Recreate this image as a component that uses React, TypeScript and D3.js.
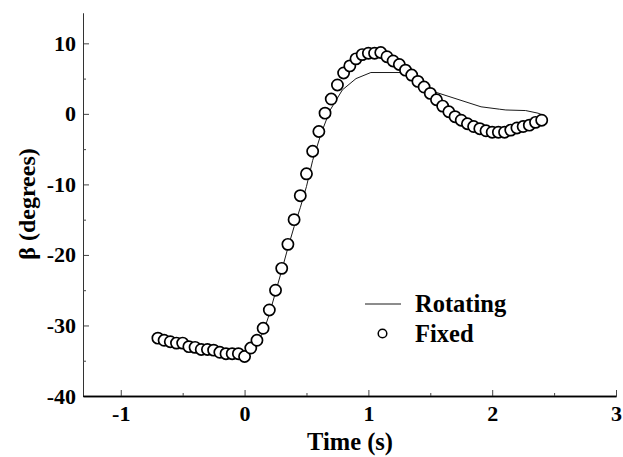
import React, { useRef, useEffect } from "react";
import * as d3 from "d3";

// Fixed (circles)
const fixedTime = [
  -0.7, -0.65, -0.6, -0.55, -0.5, -0.45, -0.4, -0.35, -0.3, -0.25, -0.2, -0.15, -0.1, -0.05,
  0.0, 0.05, 0.1, 0.15, 0.2, 0.25, 0.3, 0.35, 0.4, 0.45, 0.5, 0.55, 0.6, 0.65, 0.7, 0.75,
  0.8, 0.85, 0.9, 0.95, 1.0, 1.05, 1.1, 1.15, 1.2, 1.25, 1.3, 1.35, 1.4, 1.45, 1.5, 1.55,
  1.6, 1.65, 1.7, 1.75, 1.8, 1.85, 1.9, 1.95, 2.0, 2.05, 2.1, 2.15, 2.2, 2.25, 2.3, 2.35, 2.4,
];
const fixedBeta = [
  -31.8, -32.1, -32.3, -32.5, -32.5, -33.0, -33.1, -33.4, -33.4, -33.5, -33.8, -34.0, -34.0, -34.0,
  -34.4, -33.2, -32.1, -30.4, -27.8, -25.0, -21.9, -18.5, -15.0, -11.6, -8.5, -5.3, -2.5, 0.1, 2.1, 4.1,
  5.8, 6.8, 7.8, 8.4, 8.6, 8.6, 8.7, 8.1, 7.5, 7.0, 6.2, 5.5, 4.6, 3.8, 2.9, 2.0,
  1.1, 0.3, -0.4, -0.9, -1.4, -1.8, -2.1, -2.4, -2.6, -2.6, -2.6, -2.3, -2.0, -1.8, -1.6, -1.2, -0.9,
];

// Rotating (line)
const rotTime = [
  0.0, 0.05, 0.1, 0.15, 0.2, 0.25, 0.3, 0.35, 0.4, 0.45, 0.5, 0.55, 0.62, 0.69, 0.79, 0.9,
  1.02, 1.33, 1.52, 1.91, 2.06, 2.11, 2.27, 2.37, 2.4,
];
const rotBeta = [
  -34.4, -33.4, -32.3, -31.0, -28.4, -25.3, -22.2, -19.0, -16.0, -13.3, -10.3, -6.6, -2.7, 0.5, 3.4, 5.0,
  5.86, 5.86, 3.2, 1.0, 0.66, 0.55, 0.47, 0.1, -0.1,
];

const xMajor = [-1, 0, 1, 2, 3];
const xMinor = [-0.5, 0.5, 1.5, 2.5];
const yMajor = [-40, -30, -20, -10, 0, 10];
const yMinor = [-35, -25, -15, -5, 5];

const W = 623;
const H = 457;
const FONT = "'Liberation Serif', 'Times New Roman', serif";

export default function App() {
  const ref = useRef<SVGSVGElement>(null);

  useEffect(() => {
    const svg = d3.select(ref.current);
    svg.selectAll("*").remove();

    const x = d3.scaleLinear().domain([-1.305, 3]).range([83, 616]);
    const y = d3.scaleLinear().domain([-40, 14.3]).range([396, 13]);

    // y axis
    const gy = svg.append("g").attr("transform", `translate(${x(-1.305)},0)`);
    gy.call(
      d3.axisLeft(y).tickValues(yMajor).tickSizeInner(-6).tickSizeOuter(0).tickPadding(7)
        .tickFormat((d) => String(d))
    );
    gy.append("g").call(
      d3.axisLeft(y).tickValues(yMinor).tickSizeInner(-3).tickSizeOuter(0).tickFormat(() => "")
    );
    gy.selectAll(".domain").attr("stroke", "#333").attr("stroke-width", 1);
    gy.selectAll(".tick line").attr("stroke", "#444");

    // x axis
    const gx = svg.append("g").attr("transform", `translate(0,${y(-40)})`);
    gx.call(
      d3.axisBottom(x).tickValues(xMajor).tickSizeInner(-6).tickSizeOuter(0).tickPadding(9)
        .tickFormat((d) => String(d))
    );
    gx.append("g").call(
      d3.axisBottom(x).tickValues(xMinor).tickSizeInner(-3).tickSizeOuter(0).tickFormat(() => "")
    );
    gx.selectAll(".domain").attr("stroke", "#000").attr("stroke-width", 1.6);
    gx.selectAll(".tick line").attr("stroke", "#444");

    svg.selectAll(".tick text")
      .attr("font-family", FONT)
      .attr("font-weight", "bold")
      .attr("font-size", 22)
      .attr("fill", "#000");

    // axis titles
    svg.append("text")
      .attr("x", 350).attr("y", 450)
      .attr("text-anchor", "middle")
      .attr("font-family", FONT).attr("font-weight", "bold").attr("font-size", 24.5)
      .text("Time (s)");
    svg.append("text")
      .attr("transform", `translate(35,204) rotate(-90)`)
      .attr("text-anchor", "middle")
      .attr("font-family", FONT).attr("font-weight", "bold").attr("font-size", 24)
      .text("β (degrees)");

    // rotating line
    const rot = rotTime.map((t, i) => [t, rotBeta[i]] as [number, number]);
    const line = d3.line<[number, number]>().x((d) => x(d[0])).y((d) => y(d[1]));
    svg.append("path")
      .datum(rot)
      .attr("d", line)
      .attr("fill", "none")
      .attr("stroke", "#000")
      .attr("stroke-width", 0.9);

    // fixed circles
    const fixed = fixedTime.map((t, i) => [t, fixedBeta[i]] as [number, number]);
    svg.selectAll(".fixed")
      .data(fixed)
      .enter()
      .append("circle")
      .attr("class", "fixed")
      .attr("cx", (d) => x(d[0]))
      .attr("cy", (d) => y(d[1]))
      .attr("r", 5.6)
      .attr("fill", "#fff")
      .attr("stroke", "#000")
      .attr("stroke-width", 1.7);

    // legend
    svg.append("line")
      .attr("x1", 365).attr("x2", 401).attr("y1", 304).attr("y2", 304)
      .attr("stroke", "#000").attr("stroke-width", 0.9);
    svg.append("text")
      .attr("x", 415).attr("y", 312)
      .attr("font-family", FONT).attr("font-weight", "bold").attr("font-size", 24.5)
      .text("Rotating");
    svg.append("circle")
      .attr("cx", 382.5).attr("cy", 333.5).attr("r", 4.3)
      .attr("fill", "#fff").attr("stroke", "#000").attr("stroke-width", 1.5);
    svg.append("text")
      .attr("x", 415).attr("y", 342)
      .attr("font-family", FONT).attr("font-weight", "bold").attr("font-size", 24.5)
      .text("Fixed");
  }, []);

  return (
    <svg
      ref={ref}
      width={W}
      height={H}
      style={{ position: "absolute", left: 0, top: 0, background: "#fff" }}
    />
  );
}
